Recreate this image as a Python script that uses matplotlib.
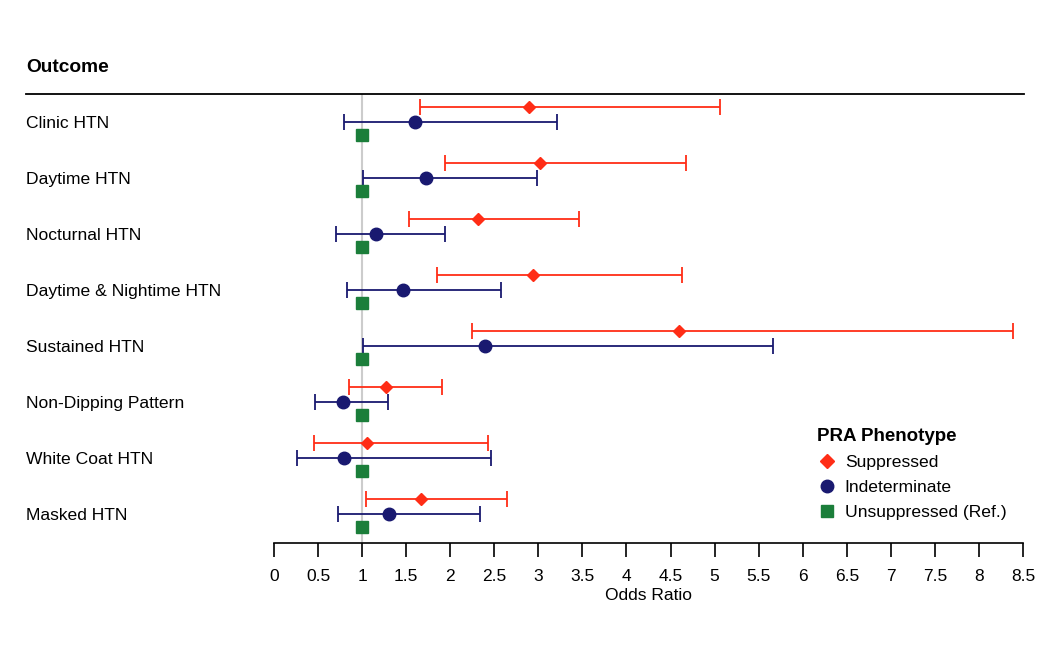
import matplotlib
matplotlib.use("Agg")
import matplotlib.pyplot as plt
from matplotlib.lines import Line2D
from matplotlib.transforms import blended_transform_factory

plt.rcParams["font.family"] = ["Liberation Sans", "DejaVu Sans"]

# --- data ---
outcomes = ["Clinic HTN", "Daytime HTN", "Nocturnal HTN", "Daytime & Nightime HTN",
            "Sustained HTN", "Non-Dipping Pattern", "White Coat HTN", "Masked HTN"]

supp_or = [2.89, 3.02, 2.31, 2.94, 4.60, 1.27, 1.06, 1.67]
supp_lo = [1.66, 1.94, 1.53, 1.85, 2.25, 0.85, 0.45, 1.04]
supp_hi = [5.06, 4.68, 3.46, 4.63, 8.39, 1.91, 2.43, 2.64]

ind_or = [1.60, 1.73, 1.16, 1.46, 2.40, 0.78, 0.79, 1.31]
ind_lo = [0.79, 1.01, 0.70, 0.83, 1.01, 0.47, 0.26, 0.73]
ind_hi = [3.21, 2.98, 1.94, 2.58, 5.66, 1.29, 2.46, 2.34]

ref_or = [1, 1, 1, 1, 1, 1, 1, 1]

xticks = [0, 0.5, 1, 1.5, 2, 2.5, 3, 3.5, 4, 4.5, 5, 5.5, 6, 6.5, 7, 7.5, 8, 8.5]
xticklabels = ["0", "0.5", "1", "1.5", "2", "2.5", "3", "3.5", "4", "4.5",
               "5", "5.5", "6", "6.5", "7", "7.5", "8", "8.5"]

red = "#ff2d16"
navy = "#191970"
green = "#1b7e3a"

W, H = 1050, 656
fig = plt.figure(figsize=(10.5, 6.56), dpi=100)
ax = fig.add_axes([274 / W, (H - 543) / H, 749 / W, 449 / H])

rows = list(range(len(outcomes)))
y_red = [r - 0.27 for r in rows]
y_blue = rows
y_green = [r + 0.23 for r in rows]

# --- garis referensi OR = 1 ---
ax.axvline(1, color="#cccccc", lw=1.5, zorder=0)

ax.errorbar(supp_or, y_red,
            xerr=[[o - l for o, l in zip(supp_or, supp_lo)], [h - o for o, h in zip(supp_or, supp_hi)]],
            fmt="D", color=red, ms=6.5, ecolor=red, elinewidth=1.3, capsize=6, capthick=1.3)
ax.errorbar(ind_or, y_blue,
            xerr=[[o - l for o, l in zip(ind_or, ind_lo)], [h - o for o, h in zip(ind_or, ind_hi)]],
            fmt="o", color=navy, ms=9, ecolor=navy, elinewidth=1.3, capsize=6, capthick=1.3)
ax.plot(ref_or, y_green, "s", color=green, ms=8)

ax.set_xlim(0, 8.5)
ax.set_ylim(7.52, -0.5)
ax.set_yticks([])
ax.set_xticks(xticks)
ax.set_xticklabels(xticklabels, fontsize=12.5)
ax.tick_params(axis="x", direction="out", length=10, width=1.2, pad=8.5)
for s in ["top", "right", "left"]:
    ax.spines[s].set_visible(False)
ax.spines["bottom"].set_linewidth(1.2)
ax.set_xlabel("Odds Ratio", fontsize=12.5, labelpad=3)

# --- label outcome ---
tr = blended_transform_factory(fig.transFigure, ax.transData)
for r, name in zip(rows, outcomes):
    ax.text(26 / W, r + 0.035, name, transform=tr, fontsize=12.6, va="center", ha="left")

fig.text(26 / W, 1 - 67 / H, "Outcome", fontsize=13.8, fontweight="bold", va="center", ha="left")
fig.add_artist(Line2D([26 / W, 1024 / W], [1 - 94 / H, 1 - 94 / H], color="black", lw=1.3))

# --- legend ---
handles = [Line2D([], [], marker="D", color=red, ls="none", ms=7),
           Line2D([], [], marker="o", color=navy, ls="none", ms=9),
           Line2D([], [], marker="s", color=green, ls="none", ms=8)]
leg = fig.legend(handles, ["Suppressed", "Indeterminate", "Unsuppressed (Ref.)"],
                 title="PRA Phenotype", loc="upper left",
                 bbox_to_anchor=(808 / W, 1 - 419 / H), frameon=False, fontsize=12.6,
                 handletextpad=0.4, labelspacing=0.56, handlelength=1.2, borderpad=0)
leg.get_title().set_fontweight("bold")
leg.get_title().set_fontsize(13.5)
leg._legend_box.align = "left"

fig.savefig("out.png", dpi=100)
